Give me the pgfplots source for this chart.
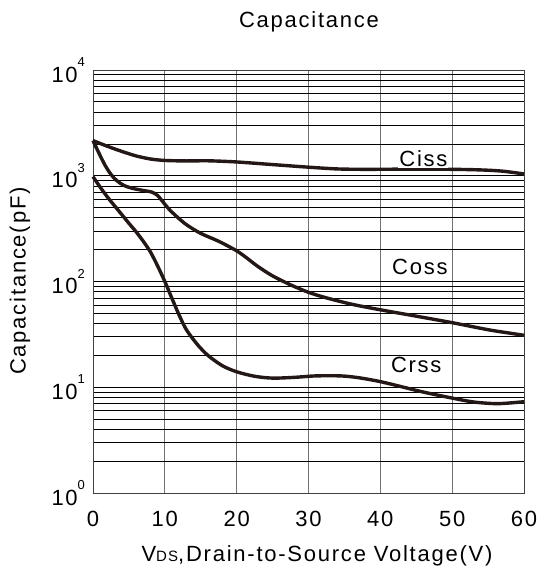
\documentclass[border=0pt]{standalone}
\usepackage{pgfplots}
\pgfplotsset{compat=1.18}
\usepackage{fontspec}
\setmainfont{Liberation Sans}[LetterSpace=8]
\definecolor{curve}{RGB}{35,24,21}
\newcommand\bigf{\fontsize{22}{26}\selectfont}
\newcommand\pw[1]{10\raisebox{15.5pt}{\fontsize{13}{13}\selectfont #1}}
\begin{document}
\begin{tikzpicture}
\path[use as bounding box] (-93pt,-82pt) rectangle (448pt,493pt);
\begin{axis}[
  at={(0,0)}, anchor=south west,
  scale only axis, width=431pt, height=423pt,
  xmin=0, xmax=60, ymode=log, ymin=1, ymax=10000,
  xtick={0,10,20,30,40,50,60},
  ytick={1,10,100,1000,10000},
  yticklabels={\pw{0},\pw{1},\pw{2},\pw{3},\pw{4}},
  /pgf/number format/assume math mode=true,
  tick label style={font=\bigf},
  xticklabel style={yshift=-15pt},
  yticklabel style={xshift=-4.5pt},
  major tick length=0pt, minor tick length=0pt,
  xmajorgrids, ymajorgrids, yminorgrids,
  x grid style={black!55, line width=0.9pt},
  y grid style={black, line width=0.7pt},
  axis line style={black!75, line width=0.9pt},
  clip=false,
]
\addplot[curve, line width=3.4pt, smooth, tension=0.5] coordinates {
(0,2150) (2,1900) (4,1700) (6,1540) (8,1440) (10,1395) (13,1380) (16,1385) (20,1350) (25,1275) (30,1205) (34,1160) (38,1150) (44,1155) (50,1150) (54,1135) (57,1105) (60,1040)
};
\addplot[curve, line width=3.4pt, smooth, tension=0.5] coordinates {
(0,2150) (0.8,1650) (1.7,1250) (2.5,1030) (3.3,900) (4.3,810) (5.5,760) (7,725) (8.2,700) (9,650) (9.7,570) (10.5,490) (11.5,420) (13,345) (15,285) (17.5,240) (20,195) (21.5,165) (23,138) (25,113) (27.5,93) (30,79) (32.5,70) (36,61) (40,54) (45,47) (50,40.8) (55,35) (58,32.5) (60,31)
};
\addplot[curve, line width=3.4pt, smooth, tension=0.5] coordinates {
(0,980) (1,780) (2,630) (3,520) (4,430) (5,355) (6,295) (7,240) (8,190) (9,140) (10,100) (11,69) (12,48) (13,35) (14.5,25.5) (16,20) (18,16) (20,14) (22.5,12.7) (25,12.2) (28,12.4) (31,12.8) (34.5,12.8) (37,12.3) (40,11.3) (43,10.1) (46,9) (50,7.9) (53,7.25) (56,7.0) (58,7.1) (60,7.3)
};
\node[font=\bigf, fill=white, inner sep=1pt] at (axis cs:46,1440) {Ciss};
\node[font=\bigf, fill=white, inner sep=1pt] at (axis cs:45.5,138) {Coss};
\node[font=\bigf, fill=white, inner sep=1pt] at (axis cs:45,16.2) {Crss};
\end{axis}
\node[font=\bigf, anchor=base] at (216pt,465.5pt) {Capacitance};
\node[font=\bigf, anchor=base] at (224pt,-68.5pt) {V{\fontsize{15}{15}\selectfont DS},Drain-to-Source Voltage(V)};
\node[font=\bigf, rotate=90] at (-73pt,212pt) {Capacitance(pF)};
\end{tikzpicture}
\end{document}
